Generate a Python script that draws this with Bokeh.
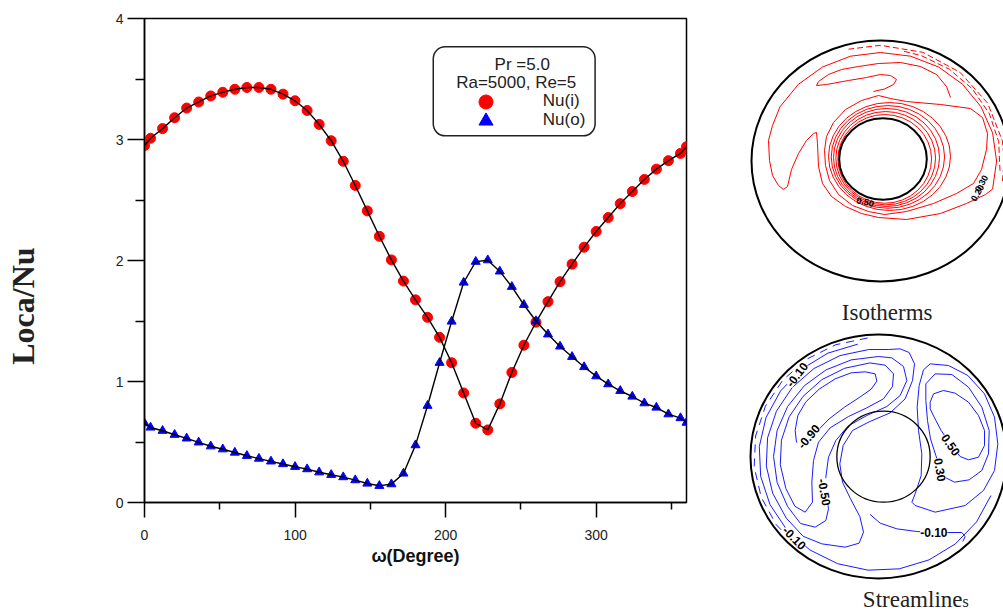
from bokeh.plotting import figure
from bokeh.models import Range1d, FixedTicker, Label, Legend, LegendItem, BoxAnnotation
from bokeh.layouts import row, column
from bokeh.embed import file_html
from bokeh.resources import INLINE

# ---------------- main chart data ----------------
angle_deg = [0, 4, 12, 20, 28, 36, 44, 52, 60, 68, 76, 84, 92, 100, 108, 116, 124, 132, 140,
             148, 156, 164, 172, 180, 188, 196, 204, 212, 220, 228, 236, 244, 252, 260, 268,
             276, 284, 292, 300, 308, 316, 324, 332, 340, 348, 356, 360]
nu_inner = [2.95, 3.01, 3.09, 3.18, 3.26, 3.31, 3.36, 3.39, 3.415, 3.43, 3.43, 3.415, 3.375,
            3.32, 3.24, 3.125, 2.99, 2.82, 2.62, 2.41, 2.20, 2.005, 1.83, 1.675, 1.53, 1.365,
            1.155, 0.905, 0.655, 0.60, 0.815, 1.075, 1.30, 1.49, 1.66, 1.825, 1.97, 2.11, 2.24,
            2.355, 2.47, 2.57, 2.67, 2.755, 2.825, 2.885, 2.94]
nu_outer = [0.655, 0.62, 0.593, 0.56, 0.53, 0.497, 0.465, 0.44, 0.413, 0.386, 0.363, 0.34,
            0.318, 0.295, 0.276, 0.25, 0.229, 0.21, 0.185, 0.157, 0.138, 0.152, 0.24, 0.474,
            0.80, 1.155, 1.496, 1.818, 1.99, 2.003, 1.91, 1.783, 1.634, 1.50, 1.39, 1.29, 1.204,
            1.12, 1.044, 0.978, 0.923, 0.876, 0.821, 0.785, 0.73, 0.698, 0.66]
x_major_ticks = [0, 100, 200, 300]
x_minor_ticks = [50, 150, 250, 350]
y_major_ticks = [0, 1, 2, 3, 4]
y_minor_ticks = [0.5, 1.5, 2.5, 3.5]
series_labels = ["Nu(i)", "Nu(o)"]
header_lines = ["Pr =5.0", "Ra=5000, Re=5"]

# ---------------- inset: isotherms (traced contour shapes, page-pixel units) ----------------
iso_outer = dict(x=[880], y=[160.5], w=[258], h=[241])
iso_inner = dict(x=[882.5], y=[158.5], w=[87.6], h=[81.6])
iso_ring_cx = [884.2, 885.2, 886.0, 887.4, 889.0]
iso_ring_cy = [158.4, 157.7, 157.0, 156.4, 156.0]
iso_ring_w = [93.7, 99.7, 106.0, 113.3, 122.0]
iso_ring_h = [88.7, 93.3, 98.0, 102.7, 108.0]
iso_big = [(992.1, 188.6), (996.1, 160.5), (992.1, 132.4), (980.5, 106.3), (962.1, 83.8),
           (938.1, 66.5), (910.1, 55.7), (880, 52), (850, 55.7), (822, 66.5), (797.9, 83.8),
           (779.5, 106.3), (772, 125), (768, 140), (769, 160), (772, 175), (778, 185),
           (783, 189), (787, 186), (791, 169), (798, 153), (806, 140), (813, 133), (816, 132),
           (817, 143), (818, 166), (822, 183), (831, 196), (845, 206), (861, 213), (878, 217),
           (906, 219), (940, 213), (966, 203), (985, 194), (992.1, 188.6)]
iso_hook = [(873, 91), (884, 88.5), (893, 84), (896, 79), (890, 75), (880, 74), (866, 77),
            (848, 80), (826, 84), (816, 85), (818, 81), (828, 74), (841, 69), (858, 66),
            (878, 63), (900, 62), (920, 66), (936, 74), (946, 86), (950, 97)]
iso_plume = [(878, 95), (861, 100), (845, 109), (833, 122), (826, 136), (824, 150), (825, 165),
             (829, 180), (838, 194), (852, 205), (868, 211), (884, 214), (906, 211), (933, 203),
             (956, 193), (973, 183), (981, 169), (986, 149), (987, 133), (982, 117), (970, 108),
             (940, 104), (906, 101), (890, 98), (878, 95)]
iso_wall_a = [(1001.9, 180.6), (1003.8, 160.5), (1001.9, 140.4), (987.2, 102.7),
              (959.6, 71.9), (922.3, 51.8), (880, 44.8), (848, 48.7)]
iso_wall_b = [(999.5, 170.3), (998.2, 141), (988.8, 113.1), (971.9, 88.4), (948.8, 68.7),
              (921, 55.2), (900.8, 50.1)]
iso_labels = [("0.50", 864.7, 201.7, -12), ("0.30", 981.0, 183.0, 60), ("0.20", 977.0, 192.5, 60)]

# ---------------- inset: streamlines (traced contour shapes, 3x-pixel units) ----------------
st_outer = dict(x=[390], y=[378], w=[768], h=[732])
st_inner = dict(x=[405], y=[378.6], w=[280], h=[273])
st_wall = [(357.4, 22.4), (262, 42.6), (175.3, 85.6), (103.2, 148.6), (50.7, 227.2),
           (21.3, 316.5), (17, 409.1), (38.2, 500.1), (83.3, 582.7), (149.3, 651.4)]
st_m010 = [(327.7, 41), (238.3, 67.9), (159.2, 115.9), (96, 181.7), (52.6, 261),
           (32.4, 348.2), (36.5, 437.4), (64.6, 522.6), (115, 598), (184.1, 658.3),
           (267.2, 699.6), (358.7, 719), (452.3, 715), (541.7, 688.1), (620.8, 640.1),
           (684.1, 574.3), (727.4, 495)]
st_loop_a = [(419.4, 57.1), (360.5, 57.1), (274.4, 75.3), (196.2, 114.2), (131.2, 171),
             (83.8, 241.9), (57.2, 322.1), (53.4, 406.1), (72.5, 488.2), (113.2, 562.7),
             (164, 617.4), (220, 640), (290, 650), (332, 638), (345, 605), (334, 558),
             (306, 505), (282, 455), (274, 400), (284, 345), (312, 300), (362, 274),
             (425, 247), (470, 205), (492, 150), (498, 100), (482, 66), (455, 55), (419.4, 57.1)]
st_loop_b = [(390, 78), (308.5, 88.1), (232.6, 118.1), (167.3, 165.8), (117.3, 228),
             (85.8, 300.3), (75.1, 378), (85.8, 455.7), (117.3, 528), (156, 579), (200, 590),
             (232, 570), (240, 535), (234, 490), (232, 440), (240, 380), (262, 330), (298, 287),
             (355, 255), (415, 228), (455, 195), (475, 150), (465, 108), (430, 82), (390, 78)]
st_loop_c = [(364.2, 97.3), (288.9, 113.2), (220.4, 147.2), (163.5, 197.9), (122, 258.9),
             (98.8, 329.1), (95.4, 402.6), (112.1, 474.4), (139.2, 527.3), (170, 545),
             (192, 515), (190, 455), (195, 390), (210, 335), (245, 292), (300, 258),
             (355, 232), (405, 205), (432, 168), (435, 130), (410, 104), (364.2, 97.3)]
st_loop_d = [(380, 130), (350, 124), (308, 127), (260, 145), (212, 176), (172, 214),
             (148, 255), (140, 300), (144, 335), (158, 348), (176, 338), (205, 303),
             (242, 265), (288, 230), (334, 200), (368, 176), (385, 152), (380, 130)]
st_r050 = [(545, 215), (555, 190), (585, 180), (620, 188), (660, 215), (690, 255), (708, 300),
           (708, 345), (690, 380), (660, 388), (635, 378), (605, 340), (578, 300), (558, 262),
           (545, 235), (545, 215)]
st_r030 = [(532, 160), (560, 130), (610, 132), (660, 170), (700, 230), (722, 300), (720, 370),
           (700, 420), (662, 448), (618, 455), (592, 442), (575, 412), (562, 375), (546, 325),
           (537, 270), (532, 210), (532, 160)]
st_r010 = [(500, 525), (560, 545), (650, 525), (705, 480), (738, 420), (748, 340), (738, 260),
           (708, 190), (658, 135), (600, 105), (545, 100), (525, 118), (512, 165), (506, 230),
           (510, 300), (520, 370), (518, 435), (500, 490), (490, 515), (500, 525)]
st_bottom = [(365, 552), (395, 578), (445, 595), (505, 603), (560, 606), (640, 606),
             (650, 618), (643, 633)]
st_labels = [("-0.10", 145, 132, 52), ("-0.10", 138, 622, -45), ("-0.10", 556, 605, 0),
             ("0.50", 607, 343, -55), ("0.30", 575, 418, -80), ("-0.90", 180, 318, 50),
             ("-0.50", 228, 485, -80)]


def xs_ys(paths):
    return [[pt[0] for pt in pth] for pth in paths], [[pt[1] for pt in pth] for pth in paths]


def bare(width, height, xr, yr):
    f = figure(width=width, height=height, x_range=Range1d(*xr), y_range=Range1d(*yr),
               output_backend="svg", toolbar_location=None, x_axis_type=None, y_axis_type=None,
               min_border_left=0, min_border_right=0, min_border_top=0, min_border_bottom=0)
    f.xgrid.visible = False
    f.ygrid.visible = False
    f.outline_line_color = None
    return f


# ---------------- y-label strip ----------------
strip = bare(40, 611, (0, 40), (611, 0))
strip.add_layout(Label(x=22, y=363, text="Loca/Nu", angle=90, angle_units="deg",
                       text_align="center", text_baseline="middle", text_font="Liberation Serif",
                       text_font_style="bold", text_font_size="32px", text_color="#222222"))

# ---------------- main figure ----------------
p = figure(frame_width=542, frame_height=484, x_range=Range1d(0, 360), y_range=Range1d(0, 4),
           min_border_left=104, min_border_right=54, min_border_top=18, min_border_bottom=109,
           output_backend="svg", toolbar_location=None)
p.xgrid.visible = False
p.ygrid.visible = False
p.outline_line_color = "black"
p.outline_line_width = 1.5
p.background_fill_color = "white"
p.border_fill_color = "white"

p.xaxis.ticker = FixedTicker(ticks=x_major_ticks, minor_ticks=x_minor_ticks)
p.yaxis.ticker = FixedTicker(ticks=y_major_ticks, minor_ticks=y_minor_ticks)
for ax, mo, mi in ((p.xaxis, 15, 7), (p.yaxis, 17, 9)):
    ax.major_tick_out = mo
    ax.major_tick_in = 0
    ax.minor_tick_out = mi
    ax.minor_tick_in = 0
    ax.major_tick_line_width = 1.5
    ax.minor_tick_line_width = 1.5
    ax.axis_line_width = 1.5
    ax.major_tick_line_color = "black"
    ax.minor_tick_line_color = "black"
    ax.axis_line_color = "black"
    ax.major_label_text_font = "Liberation Sans"
    ax.major_label_text_font_size = "14px"
    ax.major_label_text_color = "#222222"
p.yaxis.major_label_standoff = 4
p.xaxis.major_label_standoff = 12
p.xaxis.axis_label = "\u03c9(Degree)"
p.xaxis.axis_label_text_font = "Liberation Sans"
p.xaxis.axis_label_text_font_style = "bold"
p.xaxis.axis_label_text_font_size = "18px"
p.xaxis.axis_label_text_color = "#111111"
p.xaxis.axis_label_standoff = 3

p.scatter(angle_deg, nu_inner, marker="circle", size=10, fill_color="red", line_color="red")
p.scatter(angle_deg, nu_outer, marker="triangle", size=9, fill_color="blue", line_color="blue")
p.line(angle_deg, nu_inner, line_color="black", line_width=1.4)
p.line(angle_deg, nu_outer, line_color="black", line_width=1.4)

box_kw = dict(left=191.8, right=299.3, bottom=3.03, top=3.766, fill_color="white", fill_alpha=1,
              line_color="#222222", line_alpha=1, line_width=1.5)
try:
    box = BoxAnnotation(border_radius=12, **box_kw)
except Exception:
    box = BoxAnnotation(**box_kw)
p.add_layout(box)
p.add_layout(Label(x=250.9, y=3.617, text=header_lines[0], text_align="center",
                   text_baseline="middle", text_font="Liberation Sans", text_font_size="17px",
                   text_color="#222222"))
p.add_layout(Label(x=246.9, y=3.469, text=header_lines[1], text_align="center",
                   text_baseline="middle", text_font="Liberation Sans", text_font_size="17px",
                   text_color="#222222"))

nan = float("nan")
leg_i = p.scatter(x=[nan], y=[nan], marker="circle", size=14, fill_color="red", line_color="red")
leg_o = p.scatter(x=[nan], y=[nan], marker="triangle", size=14, fill_color="blue", line_color="blue")
for rend, lab, loc in ((leg_i, series_labels[0], (323.8, 383.5)), (leg_o, series_labels[1], (323.8, 364.5))):
    lg = Legend(items=[LegendItem(label=lab, renderers=[rend])], location=loc,
                glyph_width=35, glyph_height=35, label_height=35, label_standoff=40,
                padding=0, margin=0, spacing=0, border_line_color=None,
                background_fill_alpha=0, label_text_font="Liberation Sans",
                label_text_font_size="17px", label_text_color="#222222")
    p.add_layout(lg)

# ---------------- isotherm inset ----------------
iso = bare(263, 328, (740, 1003), (328, 0))
xs, ys = xs_ys([iso_big, iso_hook, iso_plume])
iso.multi_line(xs, ys, line_color="red", line_width=1)
xs, ys = xs_ys([iso_wall_a, iso_wall_b])
iso.multi_line(xs, ys, line_color="red", line_width=1, line_dash="6 3")
iso.ellipse(x=iso_ring_cx, y=iso_ring_cy, width=iso_ring_w, height=iso_ring_h,
            fill_color=None, line_color="red", line_width=1)
iso.ellipse(x=iso_outer["x"], y=iso_outer["y"], width=iso_outer["w"], height=iso_outer["h"],
            fill_color=None, line_color="black", line_width=2)
iso.ellipse(x=iso_inner["x"], y=iso_inner["y"], width=iso_inner["w"], height=iso_inner["h"],
            fill_color="white", line_color="black", line_width=2)
for t, lx, ly, a in iso_labels:
    iso.add_layout(Label(x=lx, y=ly, text=t, angle=a, angle_units="deg", text_align="center",
                         text_baseline="middle", text_font="Liberation Sans",
                         text_font_style="bold", text_font_size="9px", text_color="black"))
iso.add_layout(Label(x=886.7, y=312, text="Isotherms", text_align="center",
                     text_baseline="middle", text_font="Liberation Serif",
                     text_font_size="23px", text_color="#222222"))

# ---------------- streamline inset ----------------
st = bare(263, 283, (-24, 765), (843, -6))
xs, ys = xs_ys([st_m010, st_loop_a, st_loop_b, st_loop_c, st_loop_d, st_r050, st_r030,
                st_r010, st_bottom])
st.multi_line(xs, ys, line_color="#1a1aff", line_width=1)
xs, ys = xs_ys([st_wall])
st.multi_line(xs, ys, line_color="#1a1aff", line_width=1, line_dash="8 6")
st.ellipse(x=st_outer["x"], y=st_outer["y"], width=st_outer["w"], height=st_outer["h"],
           fill_color=None, line_color="black", line_width=2)
st.ellipse(x=st_inner["x"], y=st_inner["y"], width=st_inner["w"], height=st_inner["h"],
           fill_color=None, line_color="black", line_width=1.3)
for t, lx, ly, a in st_labels:
    st.add_layout(Label(x=lx, y=ly, text=t, angle=a, angle_units="deg", text_align="center",
                        text_baseline="middle", text_font="Liberation Sans",
                        text_font_style="bold", text_font_size="12px", text_color="black",
                        background_fill_color="white"))
st.add_layout(Label(x=642, y=808, text="Streamline", text_align="right",
                    text_baseline="middle", text_font="Liberation Serif",
                    text_font_size="23px", text_color="#222222"))
st.add_layout(Label(x=642, y=812, text="s", text_align="left",
                    text_baseline="middle", text_font="Liberation Serif",
                    text_font_size="16px", text_color="#222222"))

layout = row(strip, p, column(iso, st))
open("out.html", "w").write(file_html(layout, INLINE))
